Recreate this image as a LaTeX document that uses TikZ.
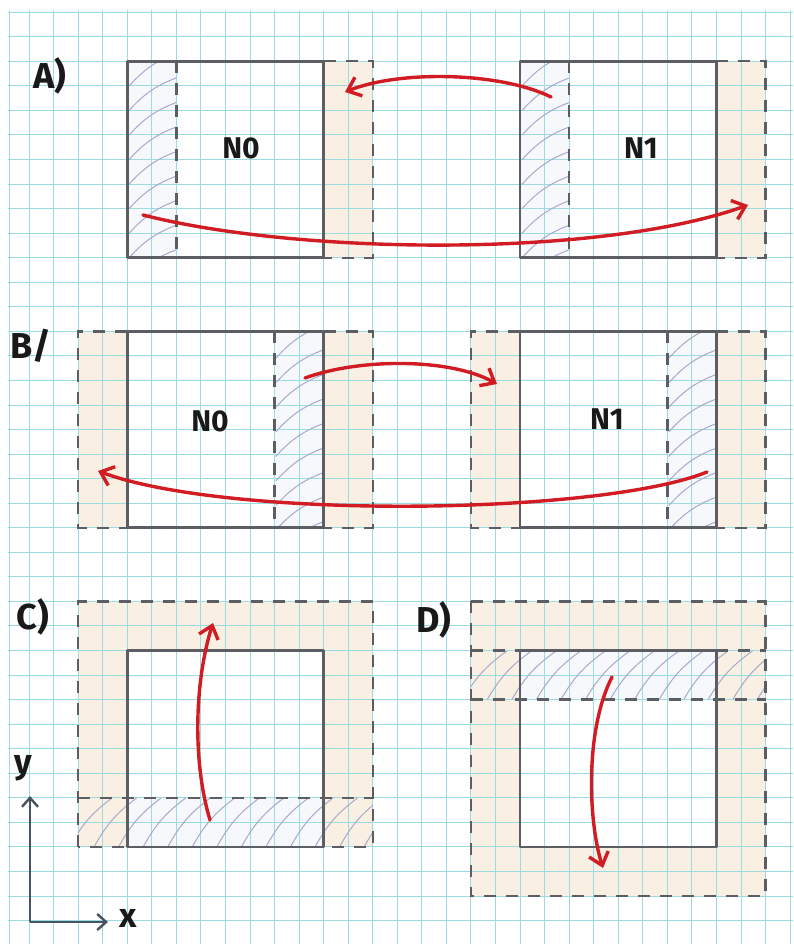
\documentclass[tikz,border=0pt]{standalone}
\usepackage{fontspec}
\setmainfont{Fira Sans}
\usetikzlibrary{arrows.meta}
\definecolor{gridc}{RGB}{155,220,226}
\definecolor{beige}{RGB}{249,240,227}
\definecolor{boxc}{RGB}{92,94,99}
\definecolor{hatchc}{RGB}{168,170,204}
\definecolor{redc}{RGB}{208,28,34}
\definecolor{tint}{RGB}{246,248,252}
\definecolor{axisc}{RGB}{72,84,98}
\tikzset{
  gridline/.style={gridc,line width=1pt},
  boxline/.style={boxc,line width=2.6pt,line join=round},
  dashline/.style={boxc,line width=2.4pt,dash pattern=on 12pt off 10pt},
  hatchline/.style={hatchc,line width=1pt,line cap=round},
  redarrow/.style={redc,line width=3.4pt,line cap=round,-{Straight Barb[length=12pt,width=20pt]}},
  axisarrow/.style={axisc,line width=2.4pt,-{Straight Barb[length=9pt,width=16pt]}},
  lbl/.style={font=\fontsize{36}{40}\selectfont\bfseries,inner sep=0pt,text=black!90},
  nlbl/.style={font=\fontsize{30}{34}\selectfont\bfseries,inner sep=0pt,text=black!90},
}
\begin{document}
\begin{tikzpicture}[x=1pt,y=-1pt]
\useasboundingbox (0,0) rectangle (793,944);
\fill[white] (0,0) rectangle (793,944);
% ---------- fills ----------
% A
\fill[tint] (127.25,61.3) rectangle (176.35,257.7);
\fill[beige] (323.65,61.3) rectangle (372.75,257.7);
\fill[tint] (520.05,61.3) rectangle (569.15,257.7);
\fill[beige] (716.45,61.3) rectangle (765.55,257.7);
% B
\fill[beige] (78.15,331.35) rectangle (127.25,527.75);
\fill[tint] (274.55,331.35) rectangle (323.65,527.75);
\fill[beige] (323.65,331.35) rectangle (372.75,527.75);
\fill[beige] (470.95,331.35) rectangle (520.05,527.75);
\fill[tint] (667.35,331.35) rectangle (716.45,527.75);
\fill[beige] (716.45,331.35) rectangle (765.55,527.75);
% C
\fill[beige] (78.15,601.4) rectangle (372.75,846.9);
\fill[white] (127.25,650.5) rectangle (323.65,846.9);
\fill[tint] (127.25,797.8) rectangle (323.65,846.9);
% D
\fill[beige] (470.95,601.4) rectangle (765.55,896);
\fill[white] (520.05,650.5) rectangle (716.45,846.9);
\fill[tint] (520.05,650.5) rectangle (716.45,699.6);
% ---------- grid ----------
\draw[gridline] (9.5,10) -- (9.5,944);
\foreach \k in {1,...,32} \draw[gridline] ({4.5+24.55*\k},10) -- ({4.5+24.55*\k},944);
\foreach \k in {0,...,37} \draw[gridline] (8,{12.2+24.55*\k}) -- (793,{12.2+24.55*\k});
% ---------- hatching ----------
\begin{scope}
\clip (127.25,61.3) rectangle (176.35,257.7);
\foreach \j in {0,...,9} \draw[hatchline] (129,{86+24.55*\j}) to[bend left=14] (180,{86+24.55*\j-34});
\end{scope}
\begin{scope}
\clip (520.05,61.3) rectangle (569.15,257.7);
\foreach \j in {0,...,9} \draw[hatchline] (522,{86+24.55*\j}) to[bend left=14] (573,{86+24.55*\j-34});
\end{scope}
\begin{scope}
\clip (274.55,331.35) rectangle (323.65,527.75);
\foreach \j in {0,...,9} \draw[hatchline] (276,{358+24.55*\j}) to[bend left=14] (327,{358+24.55*\j-34});
\end{scope}
\begin{scope}
\clip (667.35,331.35) rectangle (716.45,527.75);
\foreach \j in {0,...,9} \draw[hatchline] (669,{358+24.55*\j}) to[bend left=14] (720,{358+24.55*\j-34});
\end{scope}
\begin{scope}
\clip (78.15,797.8) rectangle (372.75,846.9);
\foreach \j in {0,...,13} \draw[hatchline] ({70+24.55*\j},846) to[bend left=12] ({112+24.55*\j},798);
\end{scope}
\begin{scope}
\clip (470.95,650.5) rectangle (765.55,699.6);
\foreach \j in {0,...,13} \draw[hatchline] ({463+24.55*\j},699) to[bend left=12] ({507+24.55*\j},651);
\end{scope}
% ---------- panel A ----------
\draw[boxline] (127.25,61.3) rectangle (323.65,257.7);
\draw[dashline] (176.35,61.3) -- (176.35,257.7);
\draw[dashline] (323.65,61.3) -- (372.75,61.3) -- (372.75,257.7) -- (323.65,257.7);
\draw[boxline] (520.05,61.3) rectangle (716.45,257.7);
\draw[dashline] (569.15,61.3) -- (569.15,257.7);
\draw[dashline] (716.45,61.3) -- (765.55,61.3) -- (765.55,257.7) -- (716.45,257.7);
% ---------- panel B ----------
\draw[boxline] (127.25,331.35) rectangle (323.65,527.75);
\draw[dashline] (274.55,331.35) -- (274.55,527.75);
\draw[dashline] (127.25,331.35) -- (78.15,331.35) -- (78.15,527.75) -- (127.25,527.75);
\draw[dashline] (323.65,331.35) -- (372.75,331.35) -- (372.75,527.75) -- (323.65,527.75);
\draw[boxline] (520.05,331.35) rectangle (716.45,527.75);
\draw[dashline] (667.35,331.35) -- (667.35,527.75);
\draw[dashline] (520.05,331.35) -- (470.95,331.35) -- (470.95,527.75) -- (520.05,527.75);
\draw[dashline] (716.45,331.35) -- (765.55,331.35) -- (765.55,527.75) -- (716.45,527.75);
% ---------- panel C ----------
\draw[dashline] (78.15,846.9) -- (78.15,601.4) -- (372.75,601.4) -- (372.75,846.9) -- cycle;
\draw[dashline] (78.15,797.8) -- (372.75,797.8);
\draw[boxline] (127.25,650.5) rectangle (323.65,846.9);
% ---------- panel D ----------
\draw[dashline] (470.95,601.4) rectangle (765.55,896);
\draw[dashline] (470.95,650.5) -- (520.05,650.5);
\draw[dashline] (716.45,650.5) -- (765.55,650.5);
\draw[dashline] (470.95,699.6) -- (765.55,699.6);
\draw[boxline] (520.05,650.5) rectangle (716.45,846.9);
% ---------- red arrows ----------
\coordinate (a1s) at (551,97);  \coordinate (a1e) at (345,92);
\coordinate (a2s) at (143,215); \coordinate (a2e) at (748,205);
\coordinate (b1s) at (305,378); \coordinate (b1e) at (497,384);
\coordinate (b2s) at (707,472); \coordinate (b2e) at (98,471);
\coordinate (c1s) at (210,820); \coordinate (c1e) at (213,623);
\coordinate (d1s) at (612,677); \coordinate (d1e) at (603,868);
\draw[redarrow] (a1s) .. controls (500,72) and (400,70) .. (a1e);
\draw[redarrow] (a2s) .. controls (300,255) and (600,258) .. (a2e);
\draw[redarrow] (b1s) .. controls (360,358) and (450,358) .. (b1e);
\draw[redarrow] (b2s) .. controls (600,515) and (230,520) .. (b2e);
\draw[redarrow] (c1s) .. controls (192,760) and (195,680) .. (c1e);
\draw[redarrow] (d1s) .. controls (585,730) and (588,820) .. (d1e);
% ---------- labels ----------
\node[lbl] (la) at (50,76) {A)};
\node[lbl] (lb) at (31,346) {B/};
\node[lbl] (lc) at (33,617) {C)};
\node[lbl] (ld) at (434,620) {D)};
\node[nlbl] (n0a) at (241,148) {N0};
\node[nlbl] (n1a) at (641,148) {N1};
\node[nlbl] (n0b) at (210,421) {N0};
\node[nlbl] (n1b) at (607,419) {N1};
% ---------- axes ----------
\coordinate (o) at (30,922);
\coordinate (yt) at (30,796);
\coordinate (xt) at (108,922);
\draw[axisarrow] (o) -- (yt);
\draw[axisarrow] (o) -- (xt);
\node[lbl,font=\fontsize{34}{38}\selectfont\bfseries] (ly) at (23,768) {y};
\node[lbl,font=\fontsize{34}{38}\selectfont\bfseries] (lx) at (128,918) {x};
\end{tikzpicture}
\end{document}
